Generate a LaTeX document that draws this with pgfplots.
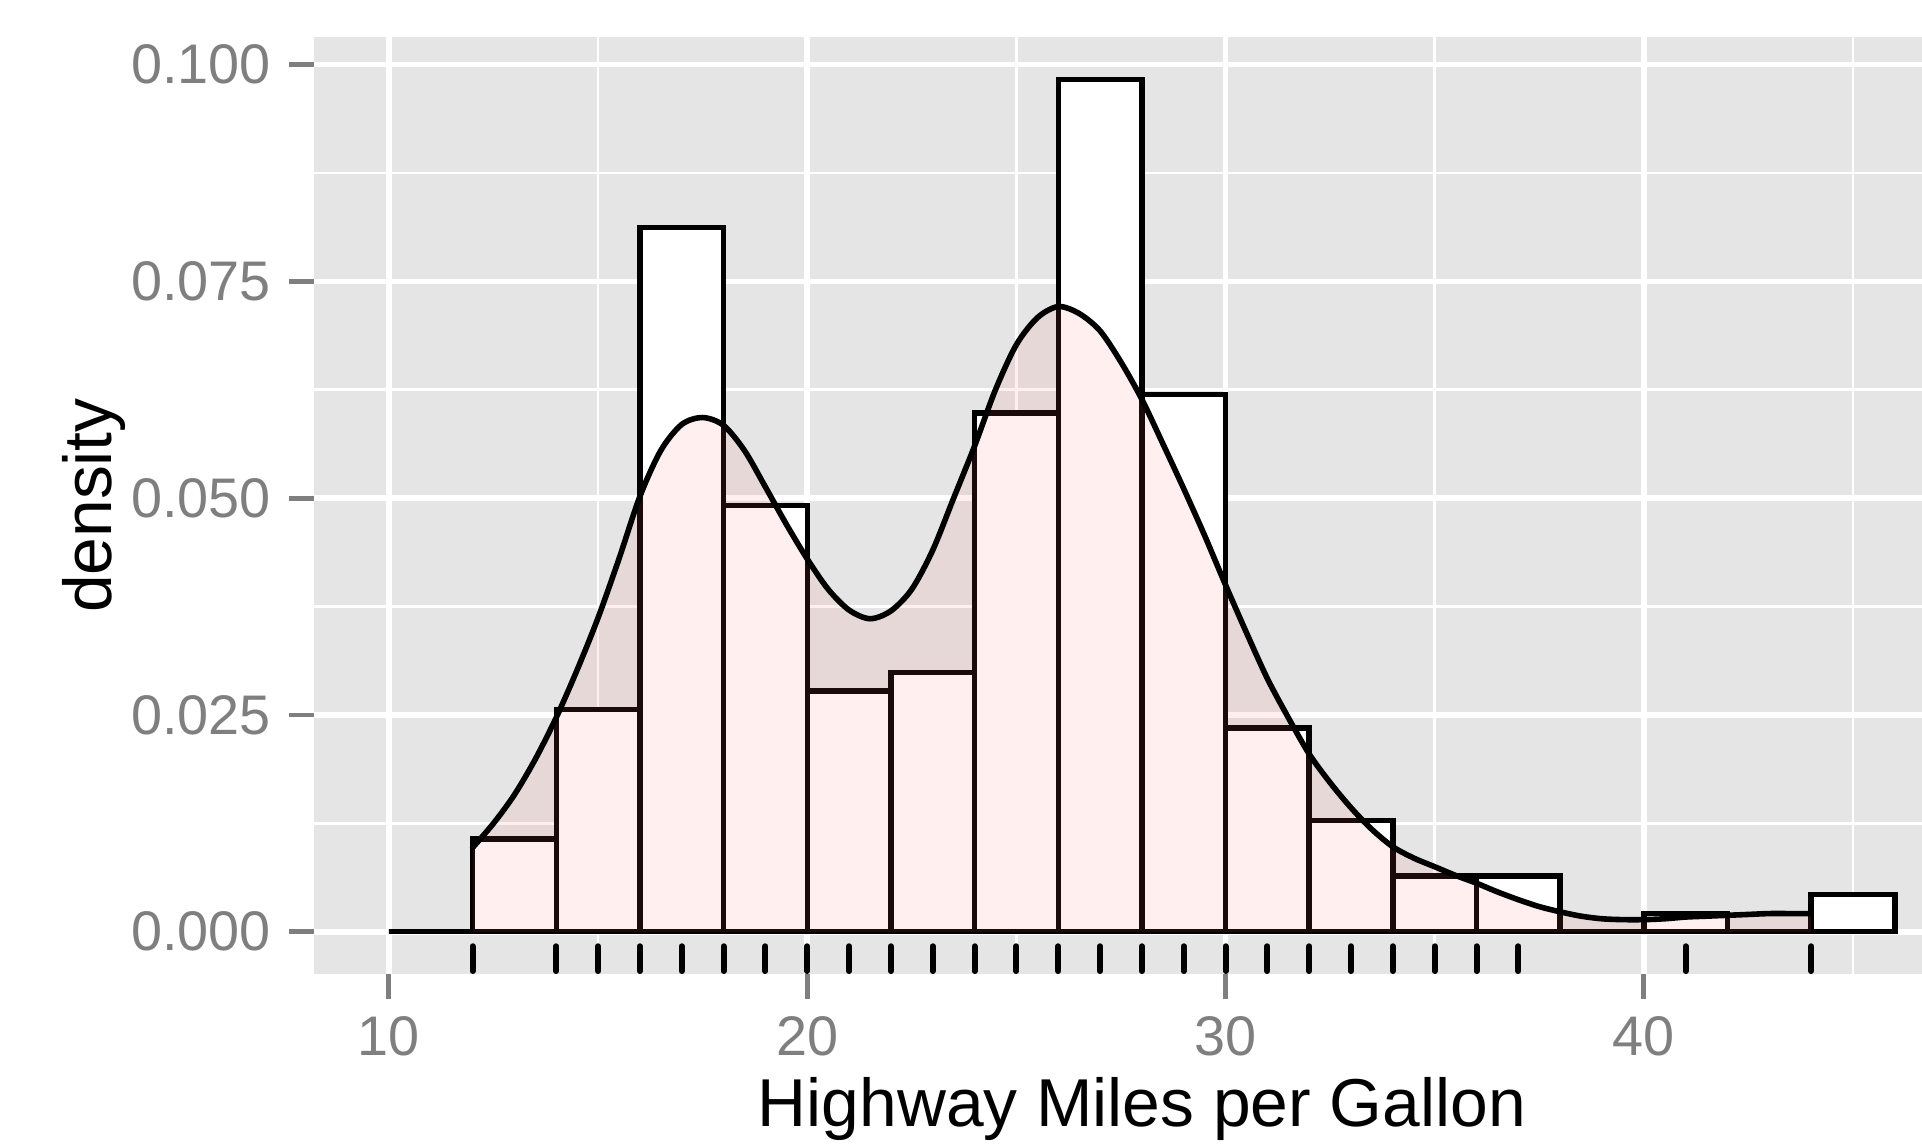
\documentclass[border=0pt]{standalone}
\usepackage{pgfplots}
\usepackage{pgfplotstable}
\pgfplotsset{compat=1.18}
\usepackage{fontspec}
\setmainfont{Liberation Sans}
\definecolor{panelgrey}{HTML}{E5E5E5}
\definecolor{tickgrey}{HTML}{7F7F7F}
\definecolor{densfill}{HTML}{FF6666}

\pgfplotstableread{
x y
12 0.0097
12.5 0.0125
13 0.0158
13.5 0.0199
14 0.0247
14.5 0.0302
15 0.0362
15.5 0.0430
16 0.0502
16.5 0.0555
17 0.0585
17.5 0.0593
18 0.0584
18.5 0.0555
19 0.0513
19.5 0.0470
20 0.0430
20.5 0.0395
21 0.0371
21.5 0.0361
22 0.0370
22.5 0.0395
23 0.0440
23.5 0.0500
24 0.0560
24.5 0.0625
25 0.0677
25.5 0.0708
26 0.0721
26.5 0.0713
27 0.0693
27.5 0.0657
28 0.0614
28.5 0.0563
29 0.0511
29.5 0.0457
30 0.0400
30.5 0.0345
31 0.0292
31.5 0.0247
32 0.0205
32.5 0.0172
33 0.0143
33.5 0.0118
34 0.0098
34.5 0.0085
35 0.0075
35.5 0.0065
36 0.0056
36.5 0.0046
37 0.0037
37.5 0.0029
38 0.0023
38.5 0.0018
39 0.0015
39.5 0.0014
40 0.0014
40.5 0.0015
41 0.0017
41.5 0.0018
42 0.0019
42.5 0.0020
43 0.0021
43.5 0.0021
44 0.0021
}\densitytable

\pgfplotstableread{
x y
10 0
12 0.010684
14 0.025641
16 0.081197
18 0.049145
20 0.027778
22 0.029915
24 0.059829
26 0.098291
28 0.061966
30 0.023504
32 0.012821
34 0.006410
36 0.006410
38 0
40 0.002137
42 0
44 0.004274
46 0.004274
}\histtable

\begin{document}
\begin{tikzpicture}
\begin{axis}[
  scale only axis, width=402.1bp, height=234.4bp,
  xmin=8.2, xmax=46.65, ymin=-0.004915, ymax=0.103206,
  axis background/.style={fill=panelgrey},
  axis line style={draw=none},
  xtick={10,20,30,40}, xticklabels={10,20,30,40},
  ytick={0,0.025,0.05,0.075,0.1}, yticklabels={0.000,0.025,0.050,0.075,0.100},
  minor xtick={15,25,35,45}, minor ytick={0.0125,0.0375,0.0625,0.0875},
  grid=both,
  major grid style={white, line width=1.4bp},
  minor grid style={white, line width=0.7bp},
  tick align=outside, xtick pos=bottom, ytick pos=left,
  major tick length=6.1bp, minor tick length=0pt,
  major tick style={tickgrey, line width=1.2bp},
  minor tick style={draw=none},
  tick label style={font=\fontsize{14}{16}\selectfont, text=tickgrey},
  yticklabel style={anchor=east, inner sep=0pt, xshift=-4.4bp},
  xticklabel style={anchor=north, inner sep=0pt, yshift=-4.2bp},
  clip=true,
]
\addplot[ybar interval, fill=white, draw=black, line width=1.35bp] table[x=x, y=y] {\histtable};
\addplot[draw=none, fill=densfill, fill opacity=0.1, smooth] table[x=x, y=y] {\densitytable} \closedcycle;
\addplot[draw=black, line width=1.4bp, smooth, line join=round, line cap=round] table[x=x, y=y] {\densitytable};
\addplot[only marks, mark=|, mark size=3.1bp, mark options={black, line width=1.5bp, line cap=round}] coordinates {
(12,-0.0031) (14,-0.0031) (15,-0.0031) (16,-0.0031) (17,-0.0031) (18,-0.0031) (19,-0.0031)
(20,-0.0031) (21,-0.0031) (22,-0.0031) (23,-0.0031) (24,-0.0031) (25,-0.0031) (26,-0.0031)
(27,-0.0031) (28,-0.0031) (29,-0.0031) (30,-0.0031) (31,-0.0031) (32,-0.0031) (33,-0.0031)
(34,-0.0031) (35,-0.0031) (36,-0.0031) (37,-0.0031) (41,-0.0031) (44,-0.0031)};
\coordinate (SW) at (rel axis cs:0,0);
\coordinate (NE) at (rel axis cs:1,1);
\coordinate (XL) at (axis cs:28,-0.004915);
\coordinate (YL) at (rel axis cs:0,0.5);
\end{axis}
\node[anchor=base, font=\fontsize{17}{20}\selectfont, inner sep=0pt] at ([yshift=-37.9bp]XL) {Highway Miles per Gallon};
\node[rotate=90, anchor=base, font=\fontsize{17}{20}\selectfont, inner sep=0pt] at ([xshift=-50.5bp]YL) {density};
\pgfresetboundingbox
\path ([shift={(-78.4bp,-42.4bp)}]SW) rectangle ([shift={(0bp,9.2bp)}]NE);
\end{tikzpicture}
\end{document}
